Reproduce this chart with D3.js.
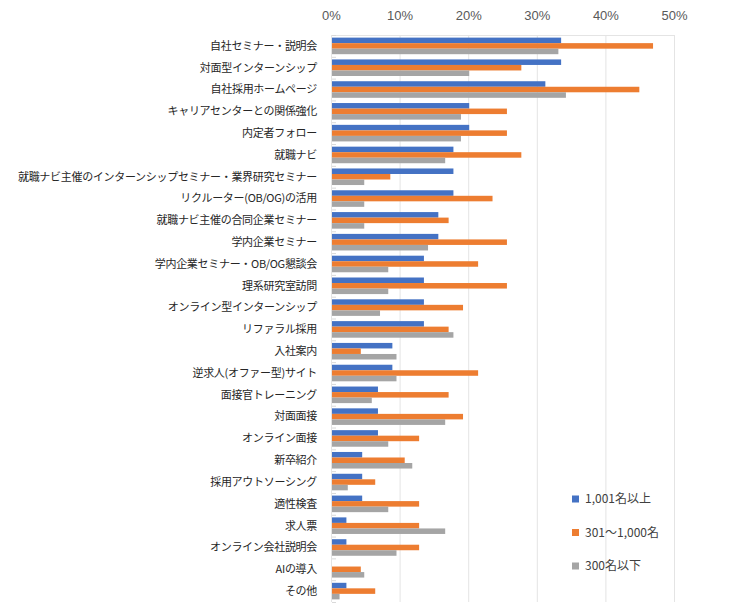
<!DOCTYPE html>
<html>
<head>
<meta charset="utf-8">
<script src="https://cdn.jsdelivr.net/npm/d3@7"></script>
<style>
  body { margin: 0; background: #fff; }
  svg { font-family: "Noto Sans CJK JP", "Noto Sans", sans-serif; }
  .grid line { stroke: #e4e4e4; }
  .xaxis text { fill: #595959; font-size: 13px; }
  .cat text { fill: #262626; font-size: 11px; letter-spacing: -0.3px; }
  .legend text { fill: #404040; font-size: 12px; }
</style>
</head>
<body>
<div id="chart"></div>
<script>
// categories, top to bottom
var categories = [
  "自社セミナー・説明会", "対面型インターンシップ", "自社採用ホームページ",
  "キャリアセンターとの関係強化", "内定者フォロー", "就職ナビ",
  "就職ナビ主催のインターンシップセミナー・業界研究セミナー",
  "リクルーター(OB/OG)の活用", "就職ナビ主催の合同企業セミナー",
  "学内企業セミナー", "学内企業セミナー・OB/OG懇談会", "理系研究室訪問",
  "オンライン型インターンシップ", "リファラル採用", "入社案内",
  "逆求人(オファー型)サイト", "面接官トレーニング", "対面面接",
  "オンライン面接", "新卒紹介", "採用アウトソーシング", "適性検査",
  "求人票", "オンライン会社説明会", "AIの導入", "その他"
];
var seriesNames = ["1,001名以上", "301～1,000名", "300名以下"];
var large = [33.4, 33.4, 31.1, 20.0, 20.0, 17.7, 17.7, 17.7, 15.5, 15.5, 13.4, 13.4, 13.4,
             13.4, 8.8, 8.8, 6.7, 6.7, 6.7, 4.4, 4.4, 4.4, 2.1, 2.1, 0, 2.1];
var middle = [46.8, 27.6, 44.8, 25.5, 25.5, 27.6, 8.5, 23.4, 17.0, 25.5, 21.3, 25.5, 19.1,
              17.0, 4.2, 21.3, 17.0, 19.1, 12.7, 10.6, 6.3, 12.7, 12.7, 12.7, 4.2, 6.3];
var small = [33.0, 20.0, 34.1, 18.8, 18.8, 16.5, 4.7, 4.7, 4.7, 14.0, 8.2, 8.2, 7.0,
             17.7, 9.4, 9.4, 5.8, 16.5, 8.2, 11.7, 2.3, 8.2, 16.5, 9.4, 4.7, 1.1];
var colors = ["#4472C4", "#ED7D31", "#A5A5A5"];
var ticks = [0, 10, 20, 30, 40, 50];

var W = 742, H = 613;
var mLeft = 331, mRight = 674, mTop = 35, mBottom = 602;

var svg = d3.select("#chart").append("svg")
    .attr("width", W).attr("height", H);

var x = d3.scaleLinear().domain([0, 50]).range([mLeft, mRight]);
var y = d3.scaleBand().domain(categories).range([mTop, mBottom])
    .paddingInner(0.24).paddingOuter(0.12);
var ys = d3.scaleBand().domain(d3.range(3)).range([0, y.bandwidth()]);

// gridlines
svg.append("g").attr("class", "grid")
  .selectAll("line").data(ticks).enter().append("line")
    .attr("x1", d => x(d) + 0.5).attr("x2", d => x(d) + 0.5)
    .attr("y1", mTop).attr("y2", mBottom);
svg.append("line")
    .attr("x1", mLeft).attr("x2", mRight)
    .attr("y1", mTop + 0.5).attr("y2", mTop + 0.5)
    .attr("stroke", "#e4e4e4");

// small ticks at category boundaries
var step = (mBottom - mTop) / categories.length;
svg.append("g")
  .selectAll("line").data(d3.range(categories.length + 1)).enter().append("line")
    .attr("x1", mLeft + 1).attr("x2", mLeft + 5)
    .attr("y1", d => mTop + d * step + 0.5).attr("y2", d => mTop + d * step + 0.5)
    .attr("stroke", "#d9d9d9");

// top axis labels
svg.append("g").attr("class", "xaxis")
  .attr("transform", "translate(0," + 23 + ")")
  .call(d3.axisTop(x).tickValues(ticks).tickFormat(d => d + "%").tickSize(0))
  .call(g => g.select(".domain").remove());

// category labels
svg.append("g").attr("class", "cat")
  .selectAll("text").data(categories).enter().append("text")
    .attr("x", 317)
    .attr("y", d => y(d) - y.step() * 0.12 + y.step() / 2)
    .attr("dy", "0.35em")
    .attr("text-anchor", "end")
    .text(d => d);

// bars
var series = [large, middle, small];
series.forEach(function(vals, s) {
  svg.append("g").attr("fill", colors[s])
    .selectAll("rect").data(vals).enter().append("rect")
      .attr("x", x(0) + 1)
      .attr("y", (d, i) => y(categories[i]) + ys(s))
      .attr("width", d => Math.max(0, x(d) - x(0)))
      .attr("height", ys.bandwidth());
});

// legend
var lg = svg.append("g").attr("class", "legend");
seriesNames.forEach(function(n, i) {
  var ly = 499 + i * 33.5;
  lg.append("rect").attr("x", 572).attr("y", ly - 3.5)
    .attr("width", 7).attr("height", 7).attr("fill", colors[i]);
  lg.append("text").attr("x", 585).attr("y", ly).attr("dy", "0.35em").text(n);
});
</script>
</body>
</html>
